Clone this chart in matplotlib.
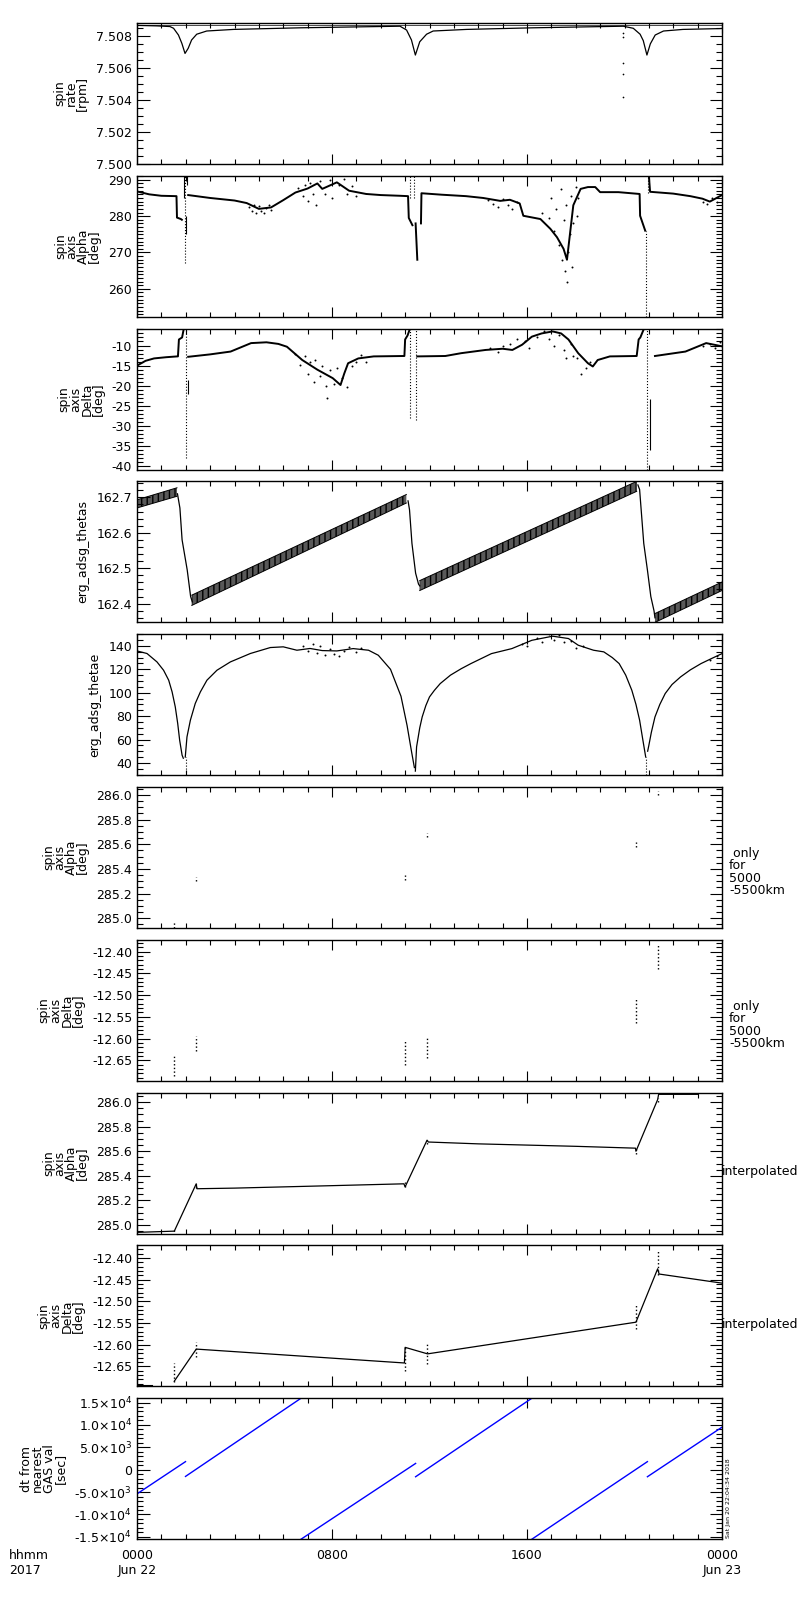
import numpy as np
import matplotlib
matplotlib.use('Agg')
import matplotlib.pyplot as plt
from matplotlib.ticker import MultipleLocator, FormatStrFormatter, FixedLocator, FixedFormatter

plt.rcParams['font.family'] = ['DejaVu Sans']
plt.rcParams['axes.unicode_minus'] = False
plt.rcParams['hatch.linewidth'] = 1.0

# all times in hours after 0000 Jun 22 2017

# --- spin rate [rpm]
rate_h = [0.0, 0.8, 1.35, 1.5, 1.7, 1.84, 1.97, 2.1, 2.24, 2.45, 2.86, 3.96, 6.7, 10.79,
          11.06, 11.26, 11.42, 11.6, 11.88, 12.15, 13.52, 16.25, 19.95, 20.36, 20.64, 20.77,
          20.92, 21.06, 21.26, 21.6, 22.4, 23.9, 24.0]
rate_v = [7.50865, 7.50862, 7.50858, 7.50847, 7.50805, 7.50753, 7.5069, 7.50722, 7.50774,
          7.5081, 7.5083, 7.5084, 7.5085, 7.5086, 7.50836, 7.50774, 7.5068, 7.50763, 7.5081,
          7.5083, 7.5084, 7.5085, 7.5086, 7.50847, 7.5081, 7.5077, 7.5068, 7.5075, 7.50805,
          7.5083, 7.5084, 7.50845, 7.50846]
rate_top_h = [0.0, 24.0]
rate_top_v = [7.50868, 7.50868]
rate_sc_h = [19.95, 19.95, 19.95, 19.95, 19.95]
rate_sc_v = [7.5082, 7.5079, 7.5063, 7.5056, 7.5042]

# --- spin axis alpha [deg]
alpha_h1 = [0.0, 0.5, 1.0, 1.62, 1.64, 1.8, 1.84]
alpha_v1 = [286.8, 286.0, 285.6, 285.5, 279.6, 279.2, 279.0]
alpha_h2 = [2.1, 3.0, 4.0, 4.5, 5.0, 5.5, 6.0, 6.5, 7.0, 7.4, 7.6, 8.2, 8.7, 9.4, 10.0, 10.8,
            11.12, 11.15, 11.3]
alpha_v2 = [285.8, 285.0, 284.3, 283.6, 282.0, 282.4, 284.4, 286.5, 287.6, 289.0, 287.5,
            289.3, 287.0, 286.1, 285.8, 285.6, 285.5, 279.5, 277.5]
alpha_h3 = [11.43, 11.5]
alpha_v3 = [278.0, 268.0]
alpha_h4 = [11.65, 11.67, 12.5, 13.5, 14.2, 14.9, 15.3, 15.7, 15.85, 16.55, 16.96, 17.23,
            17.5, 17.64, 17.9, 18.2, 18.5, 18.8, 19.0, 19.75, 20.62, 20.64, 20.85]
alpha_v4 = [278.0, 286.3, 285.9, 285.5, 285.0, 284.2, 284.5, 283.5, 280.1, 279.2, 276.5,
            274.2, 271.0, 268.0, 283.0, 287.5, 288.0, 288.0, 286.6, 286.6, 286.1, 280.1, 276.0]
alpha_h5 = [21.0, 21.05, 22.0, 22.7, 23.2, 23.5, 24.0]
alpha_v5 = [291.1, 286.7, 286.2, 285.5, 284.8, 284.0, 285.8]
alpha_dot_h = [1.97, 11.2, 11.37, 20.88, 20.97]
alpha_dot_lo = [267.0, 285.0, 285.0, 252.3, 286.5]
alpha_dot_hi = [291.1, 291.1, 291.1, 276.0, 291.1]
alpha_bar_h = [1.92, 2.02, 2.06]
alpha_bar_lo = [285.0, 275.0, 288.5]
alpha_bar_hi = [291.1, 280.0, 291.1]
alpha_sc_h = [4.6, 4.7, 4.8, 4.9, 5.0, 5.1, 5.2, 5.3, 5.4, 5.5,
              6.6, 6.8, 6.9, 7.0, 7.1, 7.2, 7.35, 7.5, 7.7, 7.9, 8.0, 8.3, 8.5, 8.6, 8.8, 9.0,
              14.4, 14.6, 14.8, 15.0, 15.2, 15.4, 15.6,
              16.6, 16.9, 17.0, 17.1, 17.2, 17.3, 17.4, 17.45, 17.5, 17.55, 17.6, 17.65, 17.7,
              17.75, 17.8, 17.85, 17.9, 18.0, 18.05, 18.1,
              23.2, 23.4, 23.6, 23.8]
alpha_sc_v = [282.5, 281.3, 283.0, 281.0, 282.8, 281.5, 280.8, 282.2, 283.2, 281.7,
              287.8, 285.5, 288.6, 284.2, 289.2, 286.0, 283.0, 289.8, 286.2, 290.0, 285.0,
              288.5, 290.2, 286.0, 288.3, 285.5,
              284.5, 283.3, 282.5, 284.8, 283.0, 282.0, 284.0,
              281.0, 279.5, 285.0, 276.0, 282.0, 272.0, 287.5, 268.0, 279.0, 265.0, 283.0,
              262.0, 270.0, 275.0, 285.5, 266.0, 278.0, 288.0, 280.0, 285.0,
              284.0, 283.3, 285.0, 283.8]

# --- spin axis delta [deg]
delta_h1 = [0.0, 0.35, 0.7, 1.2, 1.65, 1.68, 1.72, 1.85, 1.92]
delta_v1 = [-15.0, -13.8, -13.2, -12.9, -12.7, -12.7, -8.5, -8.0, -5.8]
delta_h2 = [2.1, 3.0, 3.84, 4.68, 5.31, 5.8, 6.15, 6.78, 7.4, 8.03, 8.35, 8.5, 8.66, 9.08,
            9.71, 10.97, 11.0, 11.1, 11.2]
delta_v2 = [-12.8, -12.2, -11.5, -9.4, -9.2, -9.6, -10.3, -13.6, -16.0, -18.1, -19.8, -17.0,
            -14.4, -13.2, -12.7, -12.6, -8.5, -7.5, -5.8]
delta_h3 = [11.5, 12.65, 13.3, 14.3, 15.0, 15.4, 15.8, 16.2, 16.6, 17.05, 17.4, 17.7, 18.1,
            18.5, 18.7, 18.9, 19.4, 20.5, 20.58, 20.65, 20.8]
delta_v3 = [-12.7, -12.6, -11.9, -11.1, -10.8, -11.1, -9.8, -7.8, -7.0, -6.5, -7.0, -8.5,
            -11.9, -14.4, -15.2, -13.6, -12.7, -12.6, -8.5, -8.0, -5.8]
delta_h4 = [21.25, 22.5, 23.35, 24.0]
delta_v4 = [-12.6, -11.5, -9.4, -10.2]
delta_bar_h = [2.1, 21.05]
delta_bar_lo = [-22.0, -36.0]
delta_bar_hi = [-18.6, -23.2]
delta_dot_h = [1.99, 11.18, 11.43, 20.94]
delta_dot_lo = [-38.0, -28.1, -28.5, -40.8]
delta_dot_hi = [-5.8, -5.8, -5.8, -5.8]
delta_sc_h = [6.5, 6.7, 6.9, 7.0, 7.1, 7.25, 7.3, 7.5, 7.6, 7.75, 7.8, 7.9, 8.1, 8.2, 8.4,
              8.6, 8.8, 9.0, 9.2, 9.4,
              14.5, 14.8, 15.0, 15.3, 15.6, 15.9, 16.1, 16.4, 16.7, 16.9, 17.1, 17.3, 17.5,
              17.6, 17.8, 17.9, 18.05, 18.2, 18.4, 18.6,
              23.2, 23.5, 23.7, 23.9]
delta_sc_v = [-12.0, -14.8, -12.5, -17.0, -14.0, -19.0, -13.5, -17.5, -15.0, -20.0, -23.0,
              -16.0, -19.5, -15.5, -18.0, -20.3, -15.0, -14.0, -12.4, -14.2,
              -10.5, -11.5, -10.0, -9.5, -8.5, -9.0, -10.5, -8.0, -6.5, -8.5, -10.0, -7.5,
              -11.0, -13.0, -9.5, -12.5, -13.0, -17.0, -15.5, -14.0,
              -10.0, -9.5, -10.5, -9.2]

# --- erg_adsg_thetas (band edges of the wobble)
ts_band_h = [[0.0, 1.64], [2.25, 11.05], [11.6, 20.5], [21.25, 24.0]]
ts_band_lo = [[162.670, 162.703], [162.395, 162.684], [162.437, 162.717], [162.347, 162.437]]
ts_band_hi = [[162.693, 162.727], [162.424, 162.708], [162.465, 162.745], [162.372, 162.461]]
ts_drop_h = [[1.66, 1.76, 1.85, 2.06, 2.2, 2.27],
             [11.12, 11.18, 11.28, 11.43, 11.55, 11.6],
             [20.55, 20.62, 20.79, 20.94, 21.08, 21.21, 21.25]]
ts_drop_v = [[162.71, 162.67, 162.58, 162.495, 162.42, 162.405],
             [162.69, 162.665, 162.57, 162.486, 162.455, 162.45],
             [162.735, 162.722, 162.57, 162.495, 162.42, 162.38, 162.36]]

# --- erg_adsg_thetae
te_h1 = [0.0, 0.41, 0.82, 1.09, 1.30, 1.44, 1.57, 1.67, 1.75, 1.85, 1.9]
te_v1 = [135.7, 133.5, 126.3, 119.2, 110.7, 100.7, 87.9, 73.7, 59.4, 46.6, 44.0]
te_h2 = [1.98, 2.05, 2.19, 2.39, 2.6, 2.87, 3.28, 3.83, 4.65, 5.47, 6.0, 6.56, 7.1, 7.6,
         8.2, 8.87, 9.5, 9.9, 10.4, 10.83, 11.08, 11.26, 11.38]
te_v2 = [45.0, 62.2, 76.5, 90.8, 100.7, 110.7, 119.2, 126.3, 133.5, 138.6, 139.2, 136.3,
         137.8, 136.0, 135.7, 137.7, 136.3, 132.0, 120.0, 97.0, 72.0, 50.0, 36.0]
te_h3 = [11.42, 11.47, 11.6, 11.7, 11.85, 12.0, 12.2, 12.44, 12.86, 13.3, 13.7, 14.54, 15.38,
         16.2, 17.05, 17.7, 18.1, 18.73, 19.15, 19.5, 19.78, 20.05, 20.3, 20.47, 20.62,
         20.75, 20.87]
te_v3 = [33.0, 53.7, 70.0, 79.3, 89.0, 96.4, 102.0, 107.8, 115.0, 120.5, 124.9, 133.4, 137.7,
         144.8, 148.3, 146.3, 140.6, 136.3, 134.9, 130.0, 124.9, 115.0, 102.1, 90.0, 76.5,
         60.0, 45.0]
te_h4 = [20.95, 21.0, 21.1, 21.25, 21.45, 21.67, 21.95, 22.3, 22.7, 23.14, 23.6, 24.0]
te_v4 = [50.0, 55.1, 66.0, 79.3, 90.0, 99.3, 107.0, 113.5, 119.5, 124.9, 129.5, 133.4]
te_dot_h = [1.99, 20.9]
te_dot_lo = [29.5, 29.5]
te_dot_hi = [45.0, 45.0]
te_sc_h = [6.8, 7.0, 7.2, 7.4, 7.5, 7.7, 7.9, 8.1, 8.3, 8.5, 8.7, 9.0, 9.2,
           15.8, 16.0, 16.4, 16.6, 16.9, 17.1, 17.3, 17.5, 17.8, 18.0, 18.3, 23.5, 23.8]
te_sc_v = [140.0, 136.0, 141.5, 134.0, 139.5, 132.0, 137.5, 133.0, 131.0, 136.0, 139.0,
           135.0, 138.0, 142.0, 139.5, 146.5, 143.0, 150.0, 145.0, 149.0, 143.0, 144.0,
           138.0, 139.5, 128.0, 131.0]

# --- spin axis only for 5000-5500 km (short clusters)
only_h = [1.53, 2.43, 11.0, 11.9, 20.47, 21.36]
only_alpha_lo = [284.92, 285.30, 285.31, 285.66, 285.58, 286.00]
only_alpha_hi = [284.97, 285.335, 285.35, 285.69, 285.62, 286.03]
only_delta_lo = [-12.687, -12.629, -12.66, -12.644, -12.564, -12.439]
only_delta_hi = [-12.641, -12.593, -12.606, -12.594, -12.506, -12.383]

# --- interpolated spin axis
ia_h = [0.0, 1.53, 2.43, 2.46, 4.0, 6.0, 8.0, 10.95, 11.0, 11.9, 11.95, 14.0, 16.0, 18.0,
        20.45, 20.47, 21.36, 21.4, 23.03]
ia_v = [284.94, 284.95, 285.335, 285.295, 285.30, 285.31, 285.32, 285.335, 285.31, 285.69,
        285.675, 285.66, 285.65, 285.64, 285.625, 285.60, 286.02, 286.063, 286.063]
id_h0 = [0.0, 0.6]
id_v0 = [-12.694, -12.694]
id_h = [1.53, 2.43, 10.97, 11.0, 11.92, 20.47, 21.36, 21.42, 24.0]
id_v = [-12.684, -12.61, -12.642, -12.606, -12.621, -12.548, -12.425, -12.437, -12.458]

# --- dt from nearest GAS val [sec]
dt_h0 = [0.0, 1.99, 6.73, 11.43, 16.2, 20.94]
dt_h1 = [1.99, 6.73, 11.43, 16.2, 20.94, 24.0]
dt_v0 = [-5400, -1500, -15520, -1570, -15520, -1570]
dt_v1 = [1800, 15970, 1400, 15970, 1800, 9500]
dt_ticks = [-15000, -10000, -5000, 0, 5000, 10000, 15000]
dt_labels = ['-1.5×10$^{4}$', '-1.0×10$^{4}$', '-5.0×10$^{3}$', '0',
             '5.0×10$^{3}$', '1.0×10$^{4}$', '1.5×10$^{4}$']

x_ticks = [0, 8, 16, 24]
x_labels = ['0000\nJun 22', '0800', '1600', '0000\nJun 23']

fig = plt.figure(figsize=(8, 16), dpi=100)
L, W = 137 / 800, 585 / 800
axes = []
for i in range(10):
    top = 23 + i * 152.8
    axes.append(fig.add_axes([L, 1 - (top + 141) / 1600, W, 141 / 1600]))


def style(ax, ylim, major, minor, fmt, label):
    ax.set_xlim(0, 24)
    ax.set_ylim(*ylim)
    ax.xaxis.set_major_locator(MultipleLocator(8))
    ax.xaxis.set_minor_locator(MultipleLocator(1))
    ax.yaxis.set_major_locator(MultipleLocator(major))
    ax.yaxis.set_minor_locator(MultipleLocator(minor))
    if fmt is not None:
        ax.yaxis.set_major_formatter(FormatStrFormatter(fmt))
    ax.tick_params(which='both', direction='in', top=True, right=True, labelsize=9,
                   width=0.8, labelbottom=False)
    ax.tick_params(axis='y', which='major', length=9)
    ax.tick_params(axis='y', which='minor', length=4.5)
    ax.tick_params(axis='x', which='major', length=7)
    ax.tick_params(axis='x', which='minor', length=3.5)
    for s in ax.spines.values():
        s.set_linewidth(1.0)
    ax.set_ylabel(label, fontsize=9, linespacing=0.85, labelpad=5)


k = dict(color='k', lw=0.9)
kb = dict(color='k', lw=1.4)

ax = axes[0]
ax.plot(rate_h, rate_v, **k)
ax.plot(rate_top_h, rate_top_v, color='k', lw=0.5)
ax.scatter(rate_sc_h, rate_sc_v, s=1.5, c='k', lw=0)
style(ax, (7.500, 7.5088), 0.002, 0.0005, '%.3f', 'spin\nrate\n[rpm]')

ax = axes[1]
for hh, vv in [(alpha_h1, alpha_v1), (alpha_h2, alpha_v2), (alpha_h3, alpha_v3),
               (alpha_h4, alpha_v4), (alpha_h5, alpha_v5)]:
    ax.plot(hh, vv, **kb)
ax.vlines(alpha_dot_h, alpha_dot_lo, alpha_dot_hi, colors='k', linestyles='dotted', lw=0.8)
ax.vlines(alpha_bar_h, alpha_bar_lo, alpha_bar_hi, colors='k', lw=0.8)
ax.scatter(alpha_sc_h, alpha_sc_v, s=2, c='k', lw=0)
style(ax, (252.3, 291.1), 10, 1, '%d', 'spin\naxis\nAlpha\n[deg]')

ax = axes[2]
for hh, vv in [(delta_h1, delta_v1), (delta_h2, delta_v2), (delta_h3, delta_v3),
               (delta_h4, delta_v4)]:
    ax.plot(hh, vv, **kb)
ax.vlines(delta_dot_h, delta_dot_lo, delta_dot_hi, colors='k', linestyles='dotted', lw=0.8)
ax.vlines(delta_bar_h, delta_bar_lo, delta_bar_hi, colors='k', lw=0.8)
ax.scatter(delta_sc_h, delta_sc_v, s=2, c='k', lw=0)
style(ax, (-40.8, -5.8), 5, 1, '%d', 'spin\naxis\nDelta\n[deg]')

ax = axes[3]
for hh, lo, hi in zip(ts_band_h, ts_band_lo, ts_band_hi):
    ax.fill_between(hh, lo, hi, facecolor='0.35', edgecolor='k', hatch='|||', lw=0)
    ax.plot(hh, lo, color='k', lw=0.7)
    ax.plot(hh, hi, color='k', lw=0.7)
for hh, vv in zip(ts_drop_h, ts_drop_v):
    ax.plot(hh, vv, **k)
style(ax, (162.347, 162.745), 0.1, 0.02, '%.1f', 'erg_adsg_thetas')

ax = axes[4]
for hh, vv in [(te_h1, te_v1), (te_h2, te_v2), (te_h3, te_v3), (te_h4, te_v4)]:
    ax.plot(hh, vv, **k)
ax.vlines(te_dot_h, te_dot_lo, te_dot_hi, colors='k', linestyles='dotted', lw=0.8)
ax.scatter(te_sc_h, te_sc_v, s=2, c='k', lw=0)
style(ax, (29.5, 150), 20, 5, '%d', 'erg_adsg_thetae')

ax = axes[5]
ax.vlines(only_h, only_alpha_lo, only_alpha_hi, colors='k', linestyles='dotted', lw=1.0)
style(ax, (284.92, 286.065), 0.2, 0.05, '%.1f', 'spin\naxis\nAlpha\n[deg]')

ax = axes[6]
ax.vlines(only_h, only_delta_lo, only_delta_hi, colors='k', linestyles='dotted', lw=1.0)
style(ax, (-12.697, -12.373), 0.05, 0.01, '%.2f', 'spin\naxis\nDelta\n[deg]')

ax = axes[7]
ax.plot(ia_h, ia_v, **k)
ax.vlines(only_h, only_alpha_lo, only_alpha_hi, colors='k', linestyles='dotted', lw=1.0)
style(ax, (284.93, 286.077), 0.2, 0.05, '%.1f', 'spin\naxis\nAlpha\n[deg]')

ax = axes[8]
ax.plot(id_h0, id_v0, color='k', lw=1.5)
ax.plot(id_h, id_v, **k)
ax.vlines(only_h, only_delta_lo, only_delta_hi, colors='k', linestyles='dotted', lw=1.0)
style(ax, (-12.696, -12.371), 0.05, 0.01, '%.2f', 'spin\naxis\nDelta\n[deg]')

ax = axes[9]
for a, b, c, d in zip(dt_h0, dt_h1, dt_v0, dt_v1):
    ax.plot([a, b], [c, d], color='#0000ff', lw=1.0)
style(ax, (-15520, 15970), 5000, 1000, None, 'dt from\nnearest\nGAS val\n[sec]')
ax.yaxis.set_major_locator(FixedLocator(dt_ticks))
ax.yaxis.set_major_formatter(FixedFormatter(dt_labels))
ax.set_xticks(x_ticks)
ax.set_xticklabels(x_labels)
ax.tick_params(axis='x', labelbottom=True, pad=7)

# right-hand notes
for i in (5, 6):
    top = 23 + i * 152.8
    fig.text(729 / 800, 1 - (top + 85) / 1600, ' only\nfor\n5000\n-5500km', fontsize=9,
             ha='left', va='center', linespacing=0.95)
for i in (7, 8):
    top = 23 + i * 152.8
    fig.text(722 / 800, 1 - (top + 79) / 1600, 'interpolated', fontsize=9,
             ha='left', va='center')

fig.text(726 / 800, 1 - 1538 / 1600, 'Sat Jan 20 22:04:34 2018', fontsize=4.5,
         rotation=90, ha='left', va='bottom')
fig.text(9 / 800, 1 - 1549 / 1600, 'hhmm\n2017', fontsize=9, ha='left', va='top')

fig.savefig('out.png', dpi=100)
